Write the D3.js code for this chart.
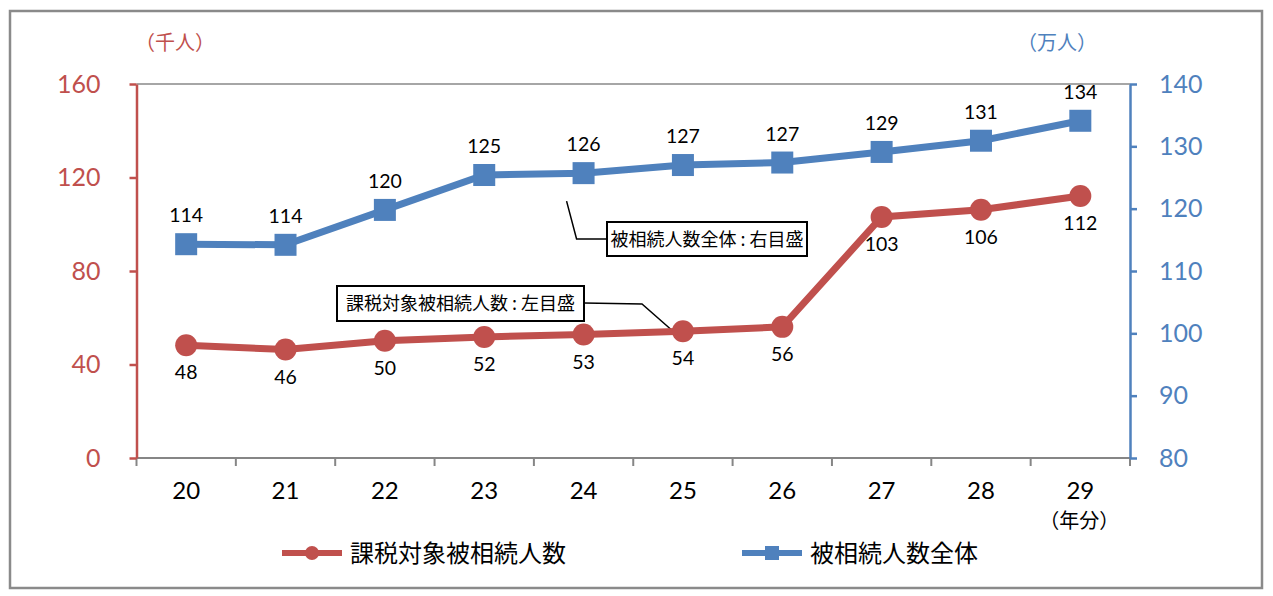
<!DOCTYPE html>
<html><head><meta charset="utf-8">
<script src="https://cdn.jsdelivr.net/npm/d3@7"></script>
<style>
body{margin:0;background:#fff;}
text{font-family:Lato,"Noto Sans CJK JP",sans-serif;}
.jp{font-family:"Noto Sans CJK JP",sans-serif;}
</style></head>
<body><svg id="c" width="1273" height="596"></svg>
<script>
const categories = ["20","21","22","23","24","25","26","27","28","29"];
const taxedValues = [48.2, 46.4, 50.2, 51.8, 52.8, 54.2, 56.1, 103.1, 106.2, 112.1];   // 千人, left axis
const totalValues = [114.3, 114.2, 119.8, 125.4, 125.7, 127.0, 127.4, 129.1, 130.9, 134.1]; // 万人, right axis
const leftTicks = [0, 40, 80, 120, 160];
const rightTicks = [80, 90, 100, 110, 120, 130, 140];
const seriesNames = ["課税対象被相続人数", "被相続人数全体"];

const RED = "#C0504D", BLUE = "#4F81BD";
const svg = d3.select("#c");
svg.append("rect").attr("x",10).attr("y",11).attr("width",1252).attr("height",577)
  .attr("fill","#fff").attr("stroke","#8a8a8a").attr("stroke-width",2.5);

const L = 136.5, R = 1130, T = 84, B = 458;
const x = d3.scaleBand().domain(categories).range([L, R]);
const yL = d3.scaleLinear().domain([0,160]).range([B, T]);
const yR = d3.scaleLinear().domain([80,140]).range([B, T]);
const cx = c => x(c) + x.bandwidth()/2;

// top border of plot area
svg.append("line").attr("x1",L).attr("x2",R).attr("y1",T).attr("y2",T)
  .attr("stroke","#A6A6A6").attr("stroke-width",2);

// bottom axis
svg.append("line").attr("x1",L).attr("x2",R).attr("y1",B).attr("y2",B)
  .attr("stroke","#868686").attr("stroke-width",2);
const bounds = categories.map(c => x(c)).concat([R]);
svg.append("g").selectAll("line").data(bounds).join("line")
  .attr("x1",d=>d).attr("x2",d=>d).attr("y1",B).attr("y2",B+8)
  .attr("stroke","#868686").attr("stroke-width",2);
const xa = svg.append("g").attr("transform",`translate(0,${B})`)
  .call(d3.axisBottom(x).tickSize(0).tickPadding(24));
xa.select(".domain").remove();
xa.selectAll("text").attr("font-size",24).attr("fill","#000")
  .style("font-family","Lato, sans-serif");
svg.append("text").attr("class","jp").attr("x",cx("29")-1).attr("y",528)
  .attr("text-anchor","middle").attr("font-size",20).attr("fill","#000").text("（年分）");

// left axis
const la = svg.append("g").attr("transform",`translate(${L},0)`)
  .call(d3.axisLeft(yL).tickValues(leftTicks).tickSize(7).tickPadding(29).tickSizeOuter(0));
la.select(".domain").attr("stroke",RED).attr("stroke-width",2.5);
la.selectAll(".tick line").attr("stroke",RED).attr("stroke-width",2.5);
la.selectAll("text").attr("font-size",25).attr("fill",RED).style("font-family","Lato, sans-serif");

// right axis
const ra = svg.append("g").attr("transform",`translate(${R},0)`)
  .call(d3.axisRight(yR).tickValues(rightTicks).tickSize(7).tickPadding(22).tickSizeOuter(0));
ra.select(".domain").attr("stroke",BLUE).attr("stroke-width",2.5);
ra.selectAll(".tick line").attr("stroke",BLUE).attr("stroke-width",2.5);
ra.selectAll("text").attr("font-size",25).attr("fill",BLUE).style("font-family","Lato, sans-serif");

// unit titles
svg.append("text").attr("class","jp").attr("x",175).attr("y",50).attr("font-size",20)
  .attr("text-anchor","middle").attr("fill",RED).text("（千人）");
svg.append("text").attr("class","jp").attr("x",1057).attr("y",50).attr("font-size",20)
  .attr("text-anchor","middle").attr("fill",BLUE).text("（万人）");

// annotation leaders and boxes
const p24 = [cx("24"), yR(totalValues[4])];
svg.append("polyline").attr("fill","none").attr("stroke","#000").attr("stroke-width",1.5)
  .attr("points",[[p24[0]-17,p24[1]+28],[p24[0]-7,239],[607,239]].join(" "));
const p25 = [cx("25"), yL(taxedValues[5])];
svg.append("polyline").attr("fill","none").attr("stroke","#000").attr("stroke-width",1.5)
  .attr("points",[[584,303],[642,304],[p25[0]-11,p25[1]-1]].join(" "));

function box(x0,y0,w,h,txt){
  svg.append("rect").attr("x",x0).attr("y",y0).attr("width",w).attr("height",h)
    .attr("fill","#fff").attr("stroke","#000").attr("stroke-width",2);
  svg.append("text").attr("class","jp").attr("x",x0+w/2).attr("y",y0+h/2+6.5)
    .attr("text-anchor","middle").attr("font-size",18).attr("fill","#000").text(txt);
}

// lines
const lineL = d3.line().x((d,i)=>cx(categories[i])).y(d=>yL(d));
const lineR = d3.line().x((d,i)=>cx(categories[i])).y(d=>yR(d));
svg.append("path").datum(totalValues).attr("d",lineR).attr("fill","none")
  .attr("stroke",BLUE).attr("stroke-width",7);
svg.append("g").selectAll("rect").data(totalValues).join("rect")
  .attr("x",(d,i)=>cx(categories[i])-11).attr("y",d=>yR(d)-11)
  .attr("width",22).attr("height",22).attr("fill",BLUE);
svg.append("path").datum(taxedValues).attr("d",lineL).attr("fill","none")
  .attr("stroke",RED).attr("stroke-width",7);
svg.append("g").selectAll("circle").data(taxedValues).join("circle")
  .attr("cx",(d,i)=>cx(categories[i])).attr("cy",d=>yL(d)).attr("r",11).attr("fill",RED);

box(337,286,247,35,"課税対象被相続人数 : 左目盛");
box(607,222,200,34,"被相続人数全体 : 右目盛");

// data labels
svg.append("g").selectAll("text").data(totalValues).join("text")
  .attr("x",(d,i)=>cx(categories[i])).attr("y",d=>yR(d)-22)
  .attr("text-anchor","middle").attr("font-size",19.5).attr("fill","#000")
  .text(d=>Math.round(d));
svg.append("g").selectAll("text").data(taxedValues).join("text")
  .attr("x",(d,i)=>cx(categories[i])).attr("y",d=>yL(d)+34)
  .attr("text-anchor","middle").attr("font-size",19.5).attr("fill","#000")
  .text(d=>Math.round(d));

// legend
const leg = [{name:seriesNames[0],color:RED,x0:282,shape:"circle"},
             {name:seriesNames[1],color:BLUE,x0:742,shape:"rect"}];
const ly = 553;
leg.forEach(l=>{
  svg.append("line").attr("x1",l.x0).attr("x2",l.x0+60).attr("y1",ly).attr("y2",ly)
    .attr("stroke",l.color).attr("stroke-width",6);
  if(l.shape==="circle") svg.append("circle").attr("cx",l.x0+30).attr("cy",ly).attr("r",7).attr("fill",l.color);
  else svg.append("rect").attr("x",l.x0+23).attr("y",ly-7).attr("width",14).attr("height",14).attr("fill",l.color);
  svg.append("text").attr("class","jp").attr("x",l.x0+68).attr("y",ly+8.5).attr("font-size",24)
    .attr("fill","#000").text(l.name);
});
</script></body></html>
